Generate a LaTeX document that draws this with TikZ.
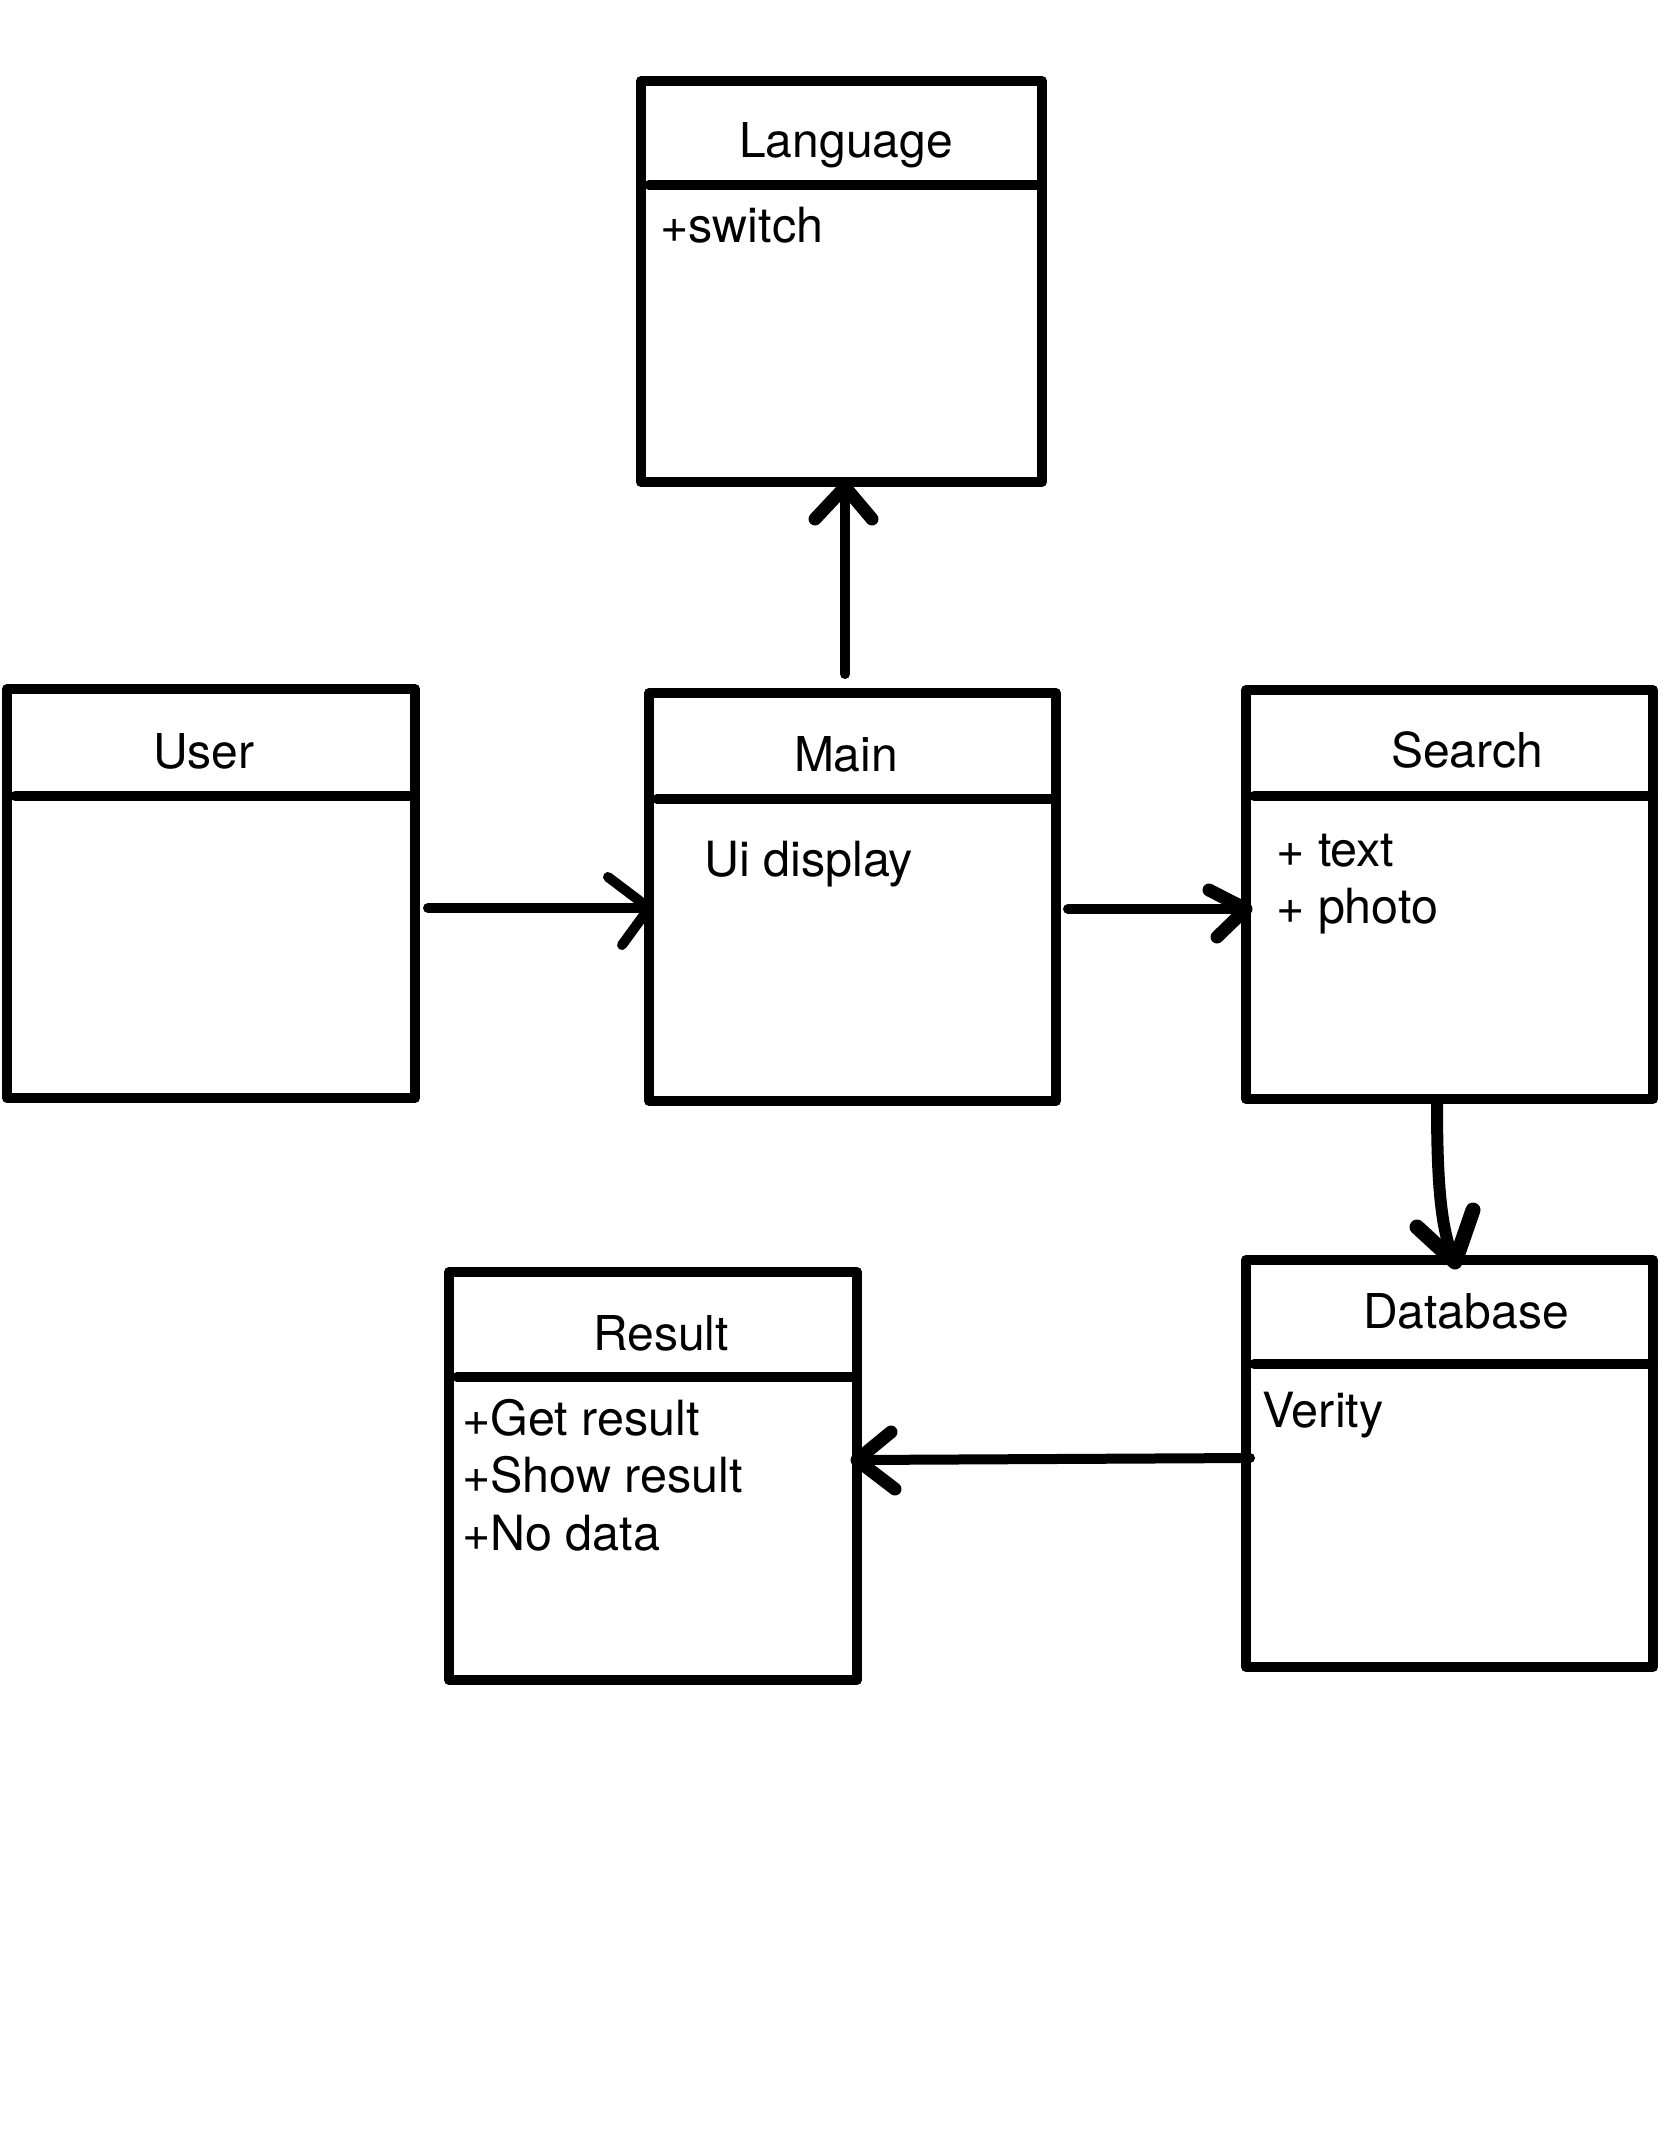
\documentclass[tikz,border=0pt]{standalone}
\usepackage{fontspec}
\setmainfont{TeX Gyre Heros}
\usetikzlibrary{calc}
\begin{document}
\begin{tikzpicture}[x=1pt,y=-1pt,
  umlbox/.style={draw=black, line width=10pt, line join=round, rectangle,
    inner sep=0pt, outer sep=0pt},
  divider/.style={line width=10pt, line cap=round},
  title/.style={anchor=base, inner sep=0pt, font=\fontsize{48}{58}\selectfont},
  body/.style={anchor=base west, inner sep=0pt, font=\fontsize{48.5}{58}\selectfont},
  conn/.style={line width=10pt, line cap=round, line join=round},
  barb/.style={line width=13pt, line cap=round, line join=round}]

% page
\fill[white] (0,0) rectangle (1668,2154);
\useasboundingbox (0,0) rectangle (1668,2154);

% class boxes
\node[umlbox, minimum width=401pt, minimum height=401pt] (lang)   at (841.5,281.5) {};
\node[umlbox, minimum width=408pt, minimum height=409pt] (user)   at (211,893.5)   {};
\node[umlbox, minimum width=407pt, minimum height=408pt] (main)   at (852.5,897)   {};
\node[umlbox, minimum width=407pt, minimum height=409pt] (search) at (1449.5,894.5) {};
\node[umlbox, minimum width=407pt, minimum height=407pt] (db)     at (1449.5,1463.5) {};
\node[umlbox, minimum width=408pt, minimum height=408pt] (result) at (653,1476)    {};

% compartment dividers
\draw[divider] ($(lang.west |- 0,185)+(8,0)$)    -- (lang.east |- 0,185);
\draw[divider] ($(user.west |- 0,796)+(8,0)$)    -- (user.east |- 0,796);
\draw[divider] ($(main.west |- 0,799)+(8,0)$)    -- (main.east |- 0,799);
\draw[divider] ($(search.west |- 0,796)+(8,0)$)  -- (search.east |- 0,796);
\draw[divider] ($(db.west |- 0,1364)+(8,0)$)     -- (db.east |- 0,1364);
\draw[divider] ($(result.west |- 0,1377)+(8,0)$) -- (result.east |- 0,1377);

% class names
\node[title] (langT)   at (846,158)   {Language};
\node[title] (userT)   at (204,768)   {User};
\node[title] (mainT)   at (846,771)   {Main};
\node[title] (searchT) at (1467,767)  {Search};
\node[title] (dbT)     at (1466,1328) {Database};
\node[title] (resultT) at (661,1350)  {Result};

% members
\node[body] (langM)    at (660,242)   {+switch};
\node[body] (mainM)    at (704,876)   {Ui display};
\node[body] (searchM1) at (1276,866)  {+ text};
\node[body] (searchM2) at (1276,923)  {+ photo};
\node[body] (dbM)      at (1262,1427) {Verity};
\node[body] (resultM1) at (462,1435)  {+Get result};
\node[body] (resultM2) at (462,1492)  {+Show result};
\node[body] (resultM3) at (462,1550)  {+No data};

% Main -> Language
\coordinate (s1) at (845,674);
\coordinate (t1) at (845,487);
\draw[conn] (s1) -- (t1);
\draw[barb] ($(t1)+(-30,32)$) -- (t1) -- ($(t1)+(27,32)$);

% User -> Main
\coordinate (s2) at (428,908);
\coordinate (t2) at (main.west |- s2);
\draw[conn] (s2) -- (t2);
\draw[conn] ($(t2)+(-41,-31)$) -- (t2) -- ($(t2)+(-27,37)$);

% Main -> Search
\coordinate (s3) at (1068,909);
\coordinate (t3) at (search.west |- s3);
\draw[conn] (s3) -- (t3);
\draw[barb] ($(t3)+(-37,-19)$) -- (t3) -- ($(t3)+(-29,28)$);

% Search -> Database
\coordinate (s4) at (1437,1103);
\coordinate (t4) at (1455,1262);
\draw[line width=12pt, line cap=round] (s4) .. controls (1437,1185) and (1441,1232) .. (t4);
\draw[barb, line width=15pt] ($(t4)+(-38,-35)$) -- (t4) -- ($(t4)+(18,-52)$);

% Database -> Result
\coordinate (s5) at (1250,1458);
\coordinate (t5) at (result.east |- 0,1460);
\draw[conn] (s5) -- (t5);
\draw[barb] ($(t5)+(34,-28)$) -- (t5) -- ($(t5)+(38,29)$);

\end{tikzpicture}
\end{document}
